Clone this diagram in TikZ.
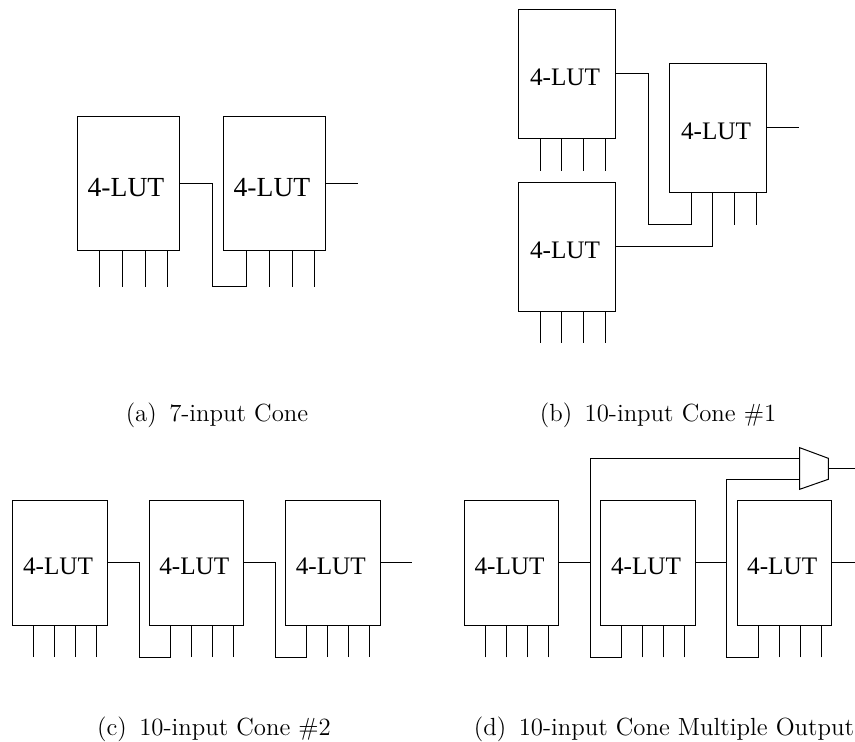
\documentclass[tikz,border=0pt]{standalone}
\usepackage{fontspec}
\newfontfamily\lutfont{Liberation Serif}
\tikzset{
  lut/.style={draw, inner sep=0pt, text height=11.6pt, text depth=0pt,
    font=\lutfont\fontsize{12.6}{15}\selectfont, execute at end node=\hspace{2pt}},
  caption/.style={inner sep=0pt, anchor=base, font=\fontsize{12.4}{14}\selectfont}
}
\begin{document}
\begin{tikzpicture}[x=0.5pt, y=-0.5pt, line width=0.5pt]
  \useasboundingbox (0,0) rectangle (855,742);
  % 7 entradas
  \begin{scope}[every node/.append style={minimum width=51pt, minimum height=67pt}]
    \node[lut, text height=12.7pt, font=\lutfont\fontsize{13.8}{15}\selectfont] (a1) at (128,184) {4-LUT};
    \node[lut, text height=12.7pt, font=\lutfont\fontsize{13.8}{15}\selectfont] (a2) at (274,184) {4-LUT};
  \end{scope}
  \coordinate (a1p) at (99,287);  \coordinate (a1q) at (122,287);
  \coordinate (a1r) at (145,287); \coordinate (a1s) at (167,287);
  \coordinate (a2p) at (246,287); \coordinate (a2q) at (269,287);
  \coordinate (a2r) at (292,287); \coordinate (a2s) at (314,287);
  \coordinate (a2o) at (358,184);
  \draw (a1p) -- (a1p |- a1.south);  \draw (a1q) -- (a1q |- a1.south);
  \draw (a1r) -- (a1r |- a1.south);  \draw (a1s) -- (a1s |- a1.south);
  \draw (a2q) -- (a2q |- a2.south);  \draw (a2r) -- (a2r |- a2.south);
  \draw (a2s) -- (a2s |- a2.south);
  \draw (a1.east) -- ++(33,0) |- (a2p) -- (a2p |- a2.south);
  \draw (a2.east) -- (a2o);
  \node[caption] (acap) at (217,421.7) {(a)\enspace 7-input Cone};
  % 10 entradas, dos en paralelo
  \begin{scope}[every node/.append style={minimum width=48.5pt, minimum height=64.7pt}]
    \node[lut] (b1) at (567,74) {4-LUT};
    \node[lut] (b2) at (567,247) {4-LUT};
    \node[lut] (b3) at (718,128) {4-LUT};
  \end{scope}
  \coordinate (b1p) at (540,171); \coordinate (b1q) at (561.7,171);
  \coordinate (b1r) at (583,171); \coordinate (b1s) at (605,171);
  \coordinate (b2p) at (540,343); \coordinate (b2q) at (561.7,343);
  \coordinate (b2r) at (583,343); \coordinate (b2s) at (605,343);
  \coordinate (b3p) at (691,225); \coordinate (b3q) at (712.7,247);
  \coordinate (b3r) at (734.7,225); \coordinate (b3s) at (756,225);
  \coordinate (b3o) at (799,128);
  \draw (b1p) -- (b1p |- b1.south);  \draw (b1q) -- (b1q |- b1.south);
  \draw (b1r) -- (b1r |- b1.south);  \draw (b1s) -- (b1s |- b1.south);
  \draw (b2p) -- (b2p |- b2.south);  \draw (b2q) -- (b2q |- b2.south);
  \draw (b2r) -- (b2r |- b2.south);  \draw (b2s) -- (b2s |- b2.south);
  \draw (b3r) -- (b3r |- b3.south);  \draw (b3s) -- (b3s |- b3.south);
  \draw (b1.east) -- ++(32,0) |- (b3p) -- (b3p |- b3.south);
  \draw (b2.east) -- (b3q) -- (b3q |- b3.south);
  \draw (b3.east) -- (b3o);
  \node[caption] (bcap) at (658,421.7) {(b)\enspace 10-input Cone \#1};
  % 10 entradas, en cadena
  \begin{scope}[every node/.append style={minimum width=47.3pt, minimum height=62.8pt}]
    \node[lut] (c1) at (60,562.8) {4-LUT};
    \node[lut] (c2) at (196.3,562.8) {4-LUT};
    \node[lut] (c3) at (332.8,562.8) {4-LUT};
  \end{scope}
  \coordinate (c1p) at (33.7,657);  \coordinate (c1q) at (54.7,657);
  \coordinate (c1r) at (75.7,657);  \coordinate (c1s) at (96.7,657);
  \coordinate (c2p) at (170.3,657); \coordinate (c2q) at (191.3,657);
  \coordinate (c2r) at (212.3,657); \coordinate (c2s) at (233,657);
  \coordinate (c3p) at (306.3,657); \coordinate (c3q) at (327.7,657);
  \coordinate (c3r) at (348.7,657); \coordinate (c3s) at (369.7,657);
  \coordinate (c3o) at (411.7,562.8);
  \draw (c1p) -- (c1p |- c1.south);  \draw (c1q) -- (c1q |- c1.south);
  \draw (c1r) -- (c1r |- c1.south);  \draw (c1s) -- (c1s |- c1.south);
  \draw (c2q) -- (c2q |- c2.south);  \draw (c2r) -- (c2r |- c2.south);
  \draw (c2s) -- (c2s |- c2.south);
  \draw (c3q) -- (c3q |- c3.south);  \draw (c3r) -- (c3r |- c3.south);
  \draw (c3s) -- (c3s |- c3.south);
  \draw (c1.east) -- ++(31.4,0) |- (c2p) -- (c2p |- c2.south);
  \draw (c2.east) -- ++(31.4,0) |- (c3p) -- (c3p |- c3.south);
  \draw (c3.east) -- (c3o);
  \node[caption] (ccap) at (214,735.3) {(c)\enspace 10-input Cone \#2};
  % 10 entradas, varias salidas
  \begin{scope}[every node/.append style={minimum width=47.2pt, minimum height=62.8pt}]
    \node[lut] (d1) at (511.5,562.8) {4-LUT};
    \node[lut] (d2) at (648,562.8) {4-LUT};
    \node[lut] (d3) at (784.2,562.8) {4-LUT};
  \end{scope}
  \coordinate (d1p) at (485.3,657.3); \coordinate (d1q) at (506.3,657.3);
  \coordinate (d1r) at (527.3,657.3); \coordinate (d1s) at (548,657.3);
  \coordinate (d2p) at (621.7,657.3); \coordinate (d2q) at (642.3,657.3);
  \coordinate (d2r) at (663.7,657.3); \coordinate (d2s) at (684.3,657.3);
  \coordinate (d3p) at (758,657.3);   \coordinate (d3q) at (779,657.3);
  \coordinate (d3r) at (800,657.3);   \coordinate (d3s) at (821,657.3);
  \coordinate (d3o) at (855,562.8);
  \draw (d1p) -- (d1p |- d1.south);  \draw (d1q) -- (d1q |- d1.south);
  \draw (d1r) -- (d1r |- d1.south);  \draw (d1s) -- (d1s |- d1.south);
  \draw (d2q) -- (d2q |- d2.south);  \draw (d2r) -- (d2r |- d2.south);
  \draw (d2s) -- (d2s |- d2.south);
  \draw (d3q) -- (d3q |- d3.south);  \draw (d3r) -- (d3r |- d3.south);
  \draw (d3s) -- (d3s |- d3.south);
  \draw (d3.east) -- (d3o);
  % mux
  \coordinate (muxa) at (799.7,458.3); \coordinate (muxb) at (799.7,479.3);
  \coordinate (muxo) at (828.3,468.3); \coordinate (muxe) at (855,468.3);
  \draw (799.7,447.7) -- (828.3,458.3) -- (828.3,479.3) -- (799.7,489.3) -- cycle;
  \draw (muxo) -- (muxe);
  \draw (d1.east) -- (590,562.8);
  \draw (d2.east) -- (726.3,562.8);
  \draw (muxa) -| (590,657.3) -- (d2p) -- (d2p |- d2.south);
  \draw (muxb) -| (726.3,657.3) -- (d3p) -- (d3p |- d3.south);
  \node[caption] (dcap) at (664,735.3) {(d)\enspace 10-input Cone Multiple Output};
\end{tikzpicture}
\end{document}
